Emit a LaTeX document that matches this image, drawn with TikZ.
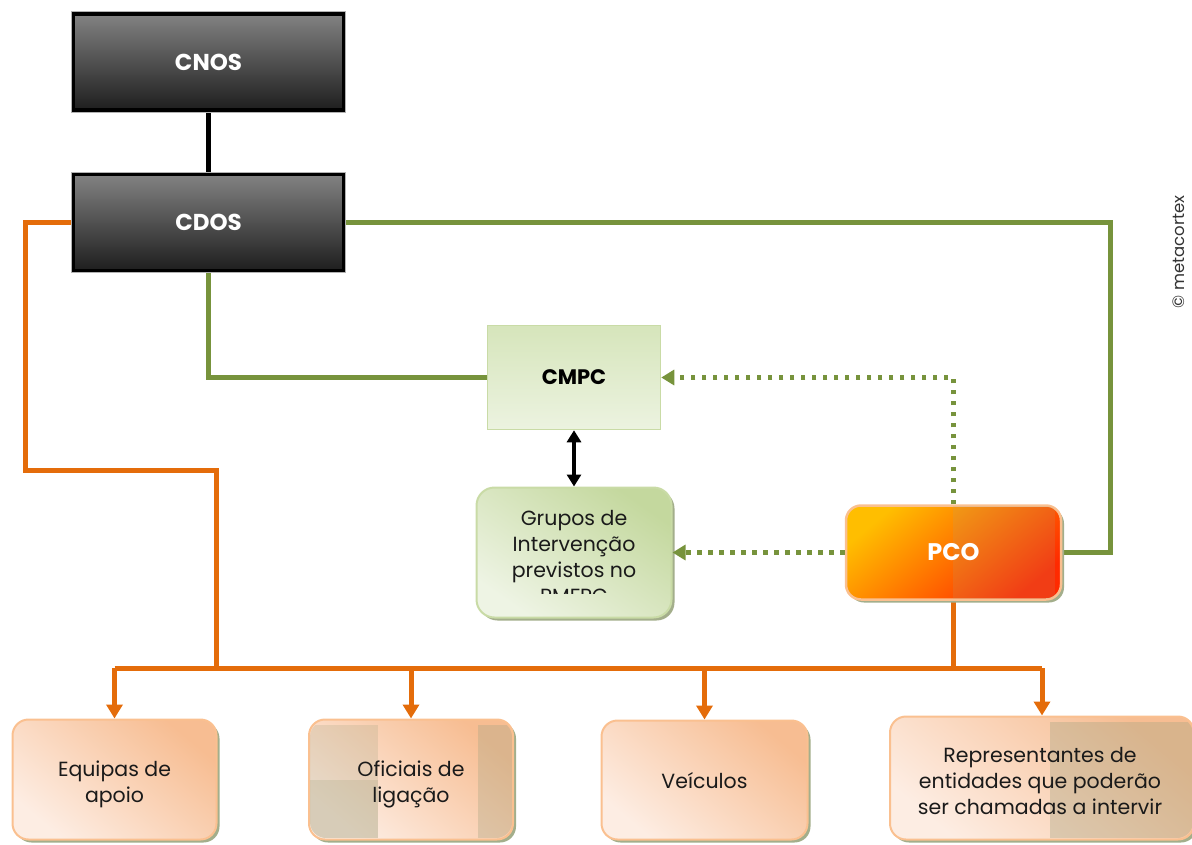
\documentclass[tikz,border=0pt]{standalone}
\usepackage{fontspec}
\setmainfont{Poppins}
\usetikzlibrary{arrows.meta,shadows}

\definecolor{lineorange}{HTML}{E46C0A}
\definecolor{linegreen}{HTML}{77933C}
\definecolor{darktop}{HTML}{828282}
\definecolor{darkbot}{HTML}{1E1E1E}
\definecolor{peachborder}{HTML}{FAC090}
\definecolor{peachdark}{HTML}{F7BD92}
\definecolor{peachlight}{HTML}{FDEDE3}
\definecolor{greenborder}{HTML}{C9DBA6}
\definecolor{greendark}{HTML}{C4D89E}
\definecolor{greenlight}{HTML}{EEF4E4}
\definecolor{cmpctop}{HTML}{D6E5BB}
\definecolor{cmpcbot}{HTML}{ECF3E0}
\definecolor{shadowcol}{HTML}{A3AE8B}
\definecolor{pcotop}{HTML}{FFBE00}
\definecolor{pcomid}{HTML}{FF8A00}
\definecolor{pcobot}{HTML}{FF2A00}
\definecolor{tinted}{HTML}{A9A684}
\definecolor{ink}{HTML}{1A1A1A}

\pgfdeclarelayer{links}
\pgfsetlayers{links,main}

\tikzset{
  boxshadow/.style={drop shadow={opacity=1, fill=shadowcol, shadow xshift=3pt, shadow yshift=-3pt}},
  darkbox/.style={rectangle, inner sep=0pt, draw=black, line width=3.5pt,
    top color=darktop, bottom color=darkbot,
    preaction={draw=black!30, line width=5.5pt},
    text=white, font=\bfseries\fontsize{23}{27}\selectfont,
    minimum width=270pt, minimum height=96pt},
  cmpcbox/.style={rectangle, inner sep=0pt, draw=greenborder, line width=1.5pt,
    top color=cmpctop, bottom color=cmpcbot,
    text=black, font=\bfseries\fontsize{21}{25}\selectfont,
    minimum width=173pt, minimum height=104pt},
  groupbox/.style={rectangle, rounded corners=18pt, inner sep=0pt,
    draw=greenborder, line width=2pt,
    top color=greendark, bottom color=greenlight, shading angle=-35,
    boxshadow, minimum width=195pt, minimum height=130pt},
  pcobox/.style={rectangle, rounded corners=15pt, inner sep=0pt,
    draw=peachborder, line width=2.5pt,
    top color=pcotop, middle color=pcomid, bottom color=pcobot, shading angle=40,
    boxshadow, minimum width=215pt, minimum height=94pt},
  peachbox/.style={rectangle, rounded corners=16pt, inner sep=0pt,
    draw=peachborder, line width=2pt,
    top color=peachdark, bottom color=peachlight, shading angle=-40,
    boxshadow, minimum height=120pt},
  bodytext/.style={align=center, inner sep=0pt, text=ink,
    font=\fontsize{20.5}{26}\selectfont},
  orangeline/.style={draw=lineorange, line width=5pt},
  orangearrow/.style={orangeline, -{Triangle[width=16pt,length=14pt]}},
  greenline/.style={draw=linegreen, line width=5pt},
  dotarrow/.style={draw=linegreen, line width=4.5pt,
    dash pattern=on 4.5pt off 6.5pt, -{Triangle[width=15pt,length=13pt]}},
  dblarrow/.style={draw=black, line width=4pt,
    {Triangle[width=14pt,length=12pt]}-{Triangle[width=14pt,length=12pt]}},
}

\begin{document}
\begin{tikzpicture}[x=1pt,y=-1pt]
\useasboundingbox (0,0) rectangle (1192,844);

% command hierarchy
\node[darkbox] (cnos) at (208.5,62) {CNOS};
\node[darkbox] (cdos) at (208.5,222.5) {CDOS};
\node[cmpcbox] (cmpc) at (574,377.5) {CMPC};
\node[groupbox] (grupos) at (574,552.5) {};
\node[pcobox] (pco) at (953.5,552.5) {};

% PCO: screened right half
\begin{scope}
  \clip[rounded corners=15pt] (846,506) rectangle (1061,599);
  \fill[tinted, opacity=0.16] (953,506) rectangle (1055,599);
\end{scope}
\node[text=white, font=\bfseries\fontsize{24}{28}\selectfont] (pcotext) at (pco.center) {PCO};

% text of the intervention groups, cut at the lower edge
\begin{scope}
  \clip (476,487) rectangle (672,593);
  \node[bodytext] (grupostext) at (574,557) {Grupos de\\Intervenção\\previstos no\\PMFPC};
\end{scope}

% resources on the ground
\node[peachbox, minimum width=204pt] (equipas) at (114.5,779.5) {};
\node[peachbox, minimum width=204pt] (oficiais) at (411,779.5) {};
\node[peachbox, minimum width=206pt, minimum height=119pt] (veiculos) at (704.5,780) {};
\node[peachbox, minimum width=304pt, minimum height=123pt] (repres) at (1042,778) {};

\begin{scope}
  \clip[rounded corners=16pt] (310,721) rectangle (512,838);
  \fill[tinted, opacity=0.25] (310,725) rectangle (378,780);
  \fill[tinted, opacity=0.45] (310,780) rectangle (378,838);
  \fill[tinted, opacity=0.35] (478,725) rectangle (512,838);
\end{scope}
\begin{scope}
  \clip[rounded corners=16pt] (891,718) rectangle (1193,838);
  \fill[tinted, opacity=0.38] (1050,722) rectangle (1193,838);
\end{scope}

\node[bodytext] (equipastext) at (114.5,784) {Equipas de\\apoio};
\node[bodytext] (oficiaistext) at (411,784) {Oficiais de\\ligação};
\node[bodytext] (veiculostext) at (704.5,781) {Veículos};
\node[bodytext] (represtext) at (1040,781) {Representantes de\\entidades que poderão\\ser chamadas a intervir};

% copyright mark along the right edge
\node[rotate=90, inner sep=0pt, text=black!80, font=\fontsize{16.5}{18}\selectfont] (mark) at (1179,252) {© metacortex};

% connectors
\coordinate (oA) at (25,222.5);
\coordinate (oB) at (25,470);
\coordinate (oC) at (216,470);
\coordinate (bus) at (216,668);
\coordinate (gR) at (1110,222.5);

\begin{pgfonlayer}{links}
  \draw[draw=black, line width=5pt] (cnos.south) -- (cdos.north);

  \draw[orangeline] (cdos.west) -- (oA) -- (oB) -- (oC) -- (bus);
  \draw[orangeline] (equipas.north |- bus) -- (repres.north |- bus);
  \draw[orangeline] (pco.south) -- (pco.south |- bus);
  \draw[orangearrow] (equipas.north |- bus) -- (equipas.north);
  \draw[orangearrow] (oficiais.north |- bus) -- (oficiais.north);
  \draw[orangearrow] (veiculos.north |- bus) -- (veiculos.north);
  \draw[orangearrow] (repres.north |- bus) -- (repres.north);

  \draw[greenline] (cdos.east) -- (gR) -- (gR |- pco.east) -- (pco.east);
  \draw[greenline] (cdos.south) -- (cdos.south |- cmpc.west) -- (cmpc.west);
\end{pgfonlayer}

\draw[dotarrow] (pco.north) -- (pco.north |- cmpc.east) -- (cmpc.east);
\draw[dotarrow] (pco.west) -- (grupos.east);
\draw[dblarrow] (cmpc.south) -- (grupos.north);
\end{tikzpicture}
\end{document}
